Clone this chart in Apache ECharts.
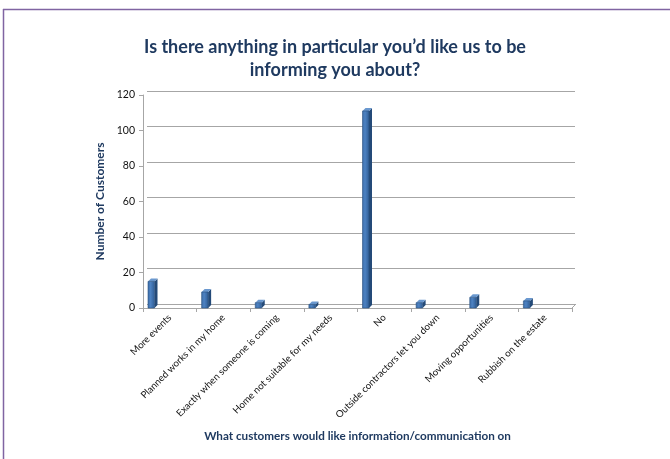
<!DOCTYPE html>
<html><head><meta charset="utf-8">
<script src="https://cdn.jsdelivr.net/npm/echarts@6/dist/echarts.min.js"></script>
<style>html,body{margin:0;padding:0;background:#fff}#c{width:670px;height:459px}</style>
</head><body><div id="c"></div>
<script>
var categories = ["More events","Planned works in my home","Exactly when someone is coming","Home not suitable for my needs","No","Outside contractors let you down","Moving opportunities","Rubbish on the estate"];
var values = [15, 9, 3, 2, 111, 3, 6, 4];
var yTicks = [0, 20, 40, 60, 80, 100, 120];

var navy = '#1F3A60';
var font = 'Lato';
var chart = echarts.init(document.getElementById('c'), null, {renderer:'canvas'});

function renderItem(params, api){
  var idx = api.value(0), v = api.value(1);
  var base = api.coord([idx, 0]);
  var top = api.coord([idx, v]);
  var catW = api.size([1,0])[0];
  var x0 = base[0] - catW/2 + 5;
  var w = 6.5, d = 3;
  var yT = top[1], yB = base[1];
  return {type:'group', children:[
    {type:'polygon', shape:{points:[[x0+w,yT],[x0+w+d,yT-d],[x0+w+d,yB-d],[x0+w,yB]]}, style:{fill:'#244A78'}},
    {type:'polygon', shape:{points:[[x0,yT],[x0+d,yT-d],[x0+w+d,yT-d],[x0+w,yT]]}, style:{fill:'#6A98CF'}},
    {type:'rect', shape:{x:x0,y:yT,width:w,height:yB-yT}, style:{
      fill:new echarts.graphic.LinearGradient(0,0,1,0,[{offset:0,color:'#3B6BA6'},{offset:0.4,color:'#4D82C2'},{offset:1,color:'#2F5C94'}]),
      stroke:'#2A5080', lineWidth:0.6}}
  ]};
}

chart.setOption({
  animation:false,
  backgroundColor:'#fff',
  title:{
    text:'Is there anything in particular you\u2019d like us to be\ninforming you about?',
    left:'center', top:31,
    textStyle:{fontFamily:font, fontSize:18, fontWeight:'bold', color:navy, lineHeight:23}
  },
  graphic:[
    {type:'line', shape:{x1:3,y1:9.5,x2:670,y2:9.5}, style:{stroke:'#8064A2', lineWidth:1.5}, silent:true},
    {type:'line', shape:{x1:3.5,y1:9,x2:3.5,y2:459}, style:{stroke:'#8064A2', lineWidth:1.5}, silent:true},
    {type:'line', shape:{x1:572,y1:308,x2:576,y2:304}, style:{stroke:'#A6A6A6', lineWidth:1}, silent:true}
  ],
  grid:[
    {left:147, right:95, top:91, bottom:155},
    {left:143, right:98, top:95, bottom:151}
  ],
  xAxis:[
    {gridIndex:0, type:'value', min:0, max:1, show:false},
    {gridIndex:1, type:'category', data:categories, boundaryGap:true,
      axisLine:{lineStyle:{color:'#A6A6A6'}},
      axisTick:{show:true, length:4, lineStyle:{color:'#A6A6A6'}},
      axisLabel:{rotate:45, interval:0, fontFamily:font, fontSize:9.7, color:'#111', margin:8},
      name:'What customers would like information/communication on',
      nameLocation:'middle', nameGap:122,
      nameTextStyle:{fontFamily:font, fontSize:11.7, fontWeight:'bold', color:navy}
    }
  ],
  yAxis:[
    {gridIndex:0, type:'value', min:0, max:120, interval:20,
      axisLine:{show:false}, axisTick:{show:false}, axisLabel:{show:false},
      splitLine:{show:true, lineStyle:{color:'#A6A6A6', width:1}}},
    {gridIndex:1, type:'value', min:0, max:120, interval:20,
      axisLine:{show:true, lineStyle:{color:'#A6A6A6'}},
      axisTick:{show:true, length:4, lineStyle:{color:'#A6A6A6'}},
      splitLine:{show:false},
      axisLabel:{fontFamily:font, fontSize:10.5, color:'#111', margin:8},
      name:'Number of Customers', nameLocation:'middle', nameGap:34, nameRotate:90,
      nameTextStyle:{fontFamily:font, fontSize:12, fontWeight:'bold', color:navy}
    }
  ],
  series:[{
    type:'custom', xAxisIndex:1, yAxisIndex:1,
    renderItem:renderItem,
    encode:{x:0, y:1},
    data:categories.map(function(c,i){return [i, values[i]];})
  }]
});
</script></body></html>
